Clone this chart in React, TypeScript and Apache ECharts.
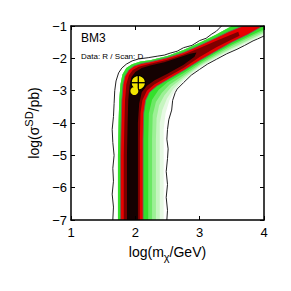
import React, { useEffect, useRef } from "react";
import * as echarts from "echarts";

// Axis ranges
const xRange = [1, 4];
const yRange = [-7, -1];

// Outer contour: upper/left side (bottom -> top)
const contourLeft: number[][] = [
  [1.65, -7], [1.66, -6.6], [1.64, -6.2], [1.66, -5.8], [1.65, -5.4], [1.67, -5.0], [1.65, -4.6],
  [1.64, -4.2], [1.66, -3.8], [1.67, -3.4], [1.68, -3.0], [1.70, -2.7], [1.74, -2.45], [1.79, -2.3],
  [1.86, -2.18], [1.95, -2.08], [2.05, -2.02], [2.2, -1.98], [2.35, -1.93], [2.45, -1.9], [2.54, -1.84],
  [2.65, -1.78], [2.75, -1.67], [2.88, -1.6], [3.0, -1.45], [3.1, -1.38], [3.18, -1.26], [3.26, -1.16], [3.34, -1.0],
];
// Outer contour: lower/right side (right edge -> bottom)
const contourRight: number[][] = [
  [4.0, -1.31], [3.9, -1.4], [3.83, -1.46], [3.7, -1.6], [3.58, -1.72], [3.42, -1.86], [3.26, -2.03],
  [3.12, -2.18], [3.0, -2.34], [2.87, -2.52], [2.75, -2.75], [2.65, -2.95], [2.62, -3.06], [2.58, -3.3],
  [2.565, -3.6], [2.52, -3.9], [2.5, -4.2], [2.49, -4.5], [2.51, -4.8], [2.5, -5.1], [2.48, -5.5],
  [2.5, -5.9], [2.48, -6.3], [2.5, -6.7], [2.49, -7],
];
// Green band upper/left edge
const greenLeft: number[][] = [
  [1.73, -7], [1.73, -5], [1.74, -4], [1.75, -3.3], [1.77, -2.8], [1.8, -2.5], [1.86, -2.3],
  [1.95, -2.18], [2.08, -2.1], [2.23, -2.06], [2.5, -1.93], [2.75, -1.74], [3.0, -1.52], [3.26, -1.26], [3.5, -1.0],
];
const topRightCorner: number[][] = [[4.0, -1.0]];
// Green shades, lower/right edges (innermost first)
const green1Right: number[][] = [
  [4.0, -1.1], [3.75, -1.33], [3.5, -1.57], [3.26, -1.83], [3.0, -2.13], [2.75, -2.45], [2.5, -2.74],
  [2.36, -2.98], [2.26, -3.28], [2.21, -3.7], [2.2, -4.5], [2.2, -7],
];
const green2Right: number[][] = [
  [4.0, -1.15], [3.75, -1.38], [3.5, -1.62], [3.26, -1.88], [3.0, -2.18], [2.75, -2.52], [2.53, -2.82],
  [2.41, -3.07], [2.32, -3.35], [2.27, -3.75], [2.26, -4.5], [2.26, -7],
];
const green3Right: number[][] = [
  [4.0, -1.2], [3.75, -1.44], [3.5, -1.68], [3.26, -1.93], [3.0, -2.22], [2.75, -2.58], [2.56, -2.88],
  [2.45, -3.15], [2.37, -3.45], [2.33, -3.85], [2.32, -4.5], [2.32, -7],
];
const green4Right: number[][] = [
  [4.0, -1.24], [3.75, -1.48], [3.5, -1.72], [3.26, -1.97], [3.0, -2.26], [2.75, -2.63], [2.59, -2.94],
  [2.49, -3.25], [2.42, -3.6], [2.38, -4.0], [2.38, -7],
];
const green5Right: number[][] = [
  [4.0, -1.28], [3.75, -1.53], [3.5, -1.77], [3.26, -2.0], [3.0, -2.3], [2.75, -2.69], [2.61, -3.0],
  [2.53, -3.3], [2.47, -3.7], [2.44, -4.2], [2.44, -7],
];
// Red band edges
const redLeft: number[][] = [
  [1.77, -7], [1.77, -5], [1.78, -4], [1.79, -3.3], [1.81, -2.8], [1.84, -2.55], [1.9, -2.36],
  [1.98, -2.24], [2.1, -2.16], [2.23, -2.11], [2.5, -1.98], [2.75, -1.82], [3.0, -1.6], [3.26, -1.36],
  [3.45, -1.18], [3.67, -1.0],
];
const redRight: number[][] = [
  [3.98, -1.0], [3.75, -1.26], [3.5, -1.5], [3.26, -1.77], [3.0, -2.07], [2.75, -2.38], [2.5, -2.66],
  [2.33, -2.86], [2.22, -3.05], [2.16, -3.3], [2.13, -3.7], [2.12, -4.5], [2.12, -7],
];
// Dark red core
const darkRedCore: number[][] = [
  [1.82, -7], [1.82, -5], [1.83, -4], [1.84, -3.3], [1.86, -2.8], [1.9, -2.52], [1.96, -2.36],
  [2.05, -2.26], [2.23, -2.17], [2.5, -2.04], [2.75, -1.88], [3.0, -1.68], [3.26, -1.46], [3.45, -1.3],
  [3.6, -1.18], [3.62, -1.3], [3.5, -1.42], [3.26, -1.66], [3.0, -1.96], [2.75, -2.3], [2.5, -2.58],
  [2.3, -2.8], [2.18, -3.0], [2.11, -3.3], [2.08, -3.7], [2.07, -4.5], [2.07, -7],
];
// Black core
const blackCore: number[][] = [
  [1.87, -7], [1.87, -5], [1.88, -4], [1.89, -3.3], [1.91, -2.85], [1.94, -2.58], [2.0, -2.42],
  [2.1, -2.3], [2.23, -2.22], [2.45, -2.12], [2.7, -1.96], [2.85, -1.86], [2.95, -1.82], [2.92, -1.95],
  [2.75, -2.2], [2.5, -2.48], [2.3, -2.68], [2.18, -2.85], [2.1, -3.05], [2.06, -3.4], [2.04, -4], [2.04, -7],
];
// Markers
const bestFit: number[][] = [[2.046, -2.754]];
const meanPoint: number[][] = [[1.985, -3.01]];

const FONT = "'Liberation Sans', Arial, Helvetica, sans-serif";

function polygonSeries(pts: number[][], fill: string, stroke?: string, lineWidth = 0) {
  return {
    type: "custom",
    coordinateSystem: "cartesian2d",
    silent: true,
    clip: true,
    data: pts,
    renderItem: (params: any, api: any) => {
      if (params.dataIndex !== 0) return null;
      const points = pts.map((p) => api.coord(p));
      return {
        type: "polygon",
        shape: { points },
        style: { fill, stroke: stroke || "none", lineWidth },
      };
    },
  };
}

function lineSeries(pts: number[][], stroke: string, lineWidth: number) {
  return {
    type: "custom",
    coordinateSystem: "cartesian2d",
    silent: true,
    clip: true,
    data: pts,
    renderItem: (params: any, api: any) => {
      if (params.dataIndex !== 0) return null;
      const points = pts.map((p) => api.coord(p));
      return {
        type: "polyline",
        shape: { points },
        style: { fill: "none", stroke, lineWidth },
      };
    },
  };
}

export default function App() {
  const ref = useRef<HTMLDivElement>(null);
  useEffect(() => {
    if (!ref.current) return;
    const chart = echarts.init(ref.current, undefined, { renderer: "svg" });
    const axisCommon = {
      type: "value",
      z: 10,
      splitLine: { show: false },
      axisLine: { show: true, lineStyle: { color: "#000", width: 1.5 } },
      axisTick: { show: true, inside: true, length: 4, lineStyle: { color: "#000", width: 1 } },
    };
    const option: any = {
      animation: false,
      grid: { left: 71, right: 27, top: 26, bottom: 71, show: false },
      xAxis: [
        {
          ...axisCommon,
          min: xRange[0],
          max: xRange[1],
          interval: 1,
          position: "bottom",
          axisLabel: { color: "#000", fontSize: 13, fontFamily: FONT, margin: 6 },
          name: "log(m{sub|χ}/GeV)",
          nameLocation: "middle",
          nameGap: 21,
          nameTextStyle: {
            color: "#000",
            fontSize: 14,
            fontFamily: FONT,
            rich: { sub: { fontSize: 11, fontFamily: FONT, color: "#000", padding: [10, 0, 0, 0] } },
          },
        },
        {
          ...axisCommon,
          min: xRange[0],
          max: xRange[1],
          interval: 1,
          position: "top",
          axisLabel: { show: false },
        },
      ],
      yAxis: [
        {
          ...axisCommon,
          min: yRange[0],
          max: yRange[1],
          interval: 1,
          position: "left",
          axisLabel: {
            color: "#000",
            fontSize: 13,
            fontFamily: FONT,
            margin: 4,
            formatter: (v: number) => String(v).replace("-", "\u2212"),
          },
          name: "log(σ{sup|SD}/pb)",
          nameLocation: "middle",
          nameGap: 27,
          nameTextStyle: {
            color: "#000",
            fontSize: 14,
            fontFamily: FONT,
            rich: { sup: { fontSize: 11, fontFamily: FONT, color: "#000", padding: [0, 0, 10, 0] } },
          },
        },
        {
          ...axisCommon,
          min: yRange[0],
          max: yRange[1],
          interval: 1,
          position: "right",
          axisLabel: { show: false },
        },
      ],
      graphic: [
        {
          type: "text",
          left: 81,
          top: 32,
          z: 20,
          style: { text: "BM3", fontSize: 12, fontFamily: FONT, fill: "#000" },
        },
        {
          type: "text",
          left: 81,
          top: 52,
          z: 20,
          style: { text: "Data: R / Scan: D", fontSize: 8, fontFamily: FONT, fill: "#000" },
        },
      ],
      series: [
        polygonSeries([...greenLeft, ...topRightCorner, ...green5Right], "#e6f9e3"),
        polygonSeries([...greenLeft, ...topRightCorner, ...green4Right], "#c6f5c0"),
        polygonSeries([...greenLeft, ...topRightCorner, ...green3Right], "#9cf095"),
        polygonSeries([...greenLeft, ...topRightCorner, ...green2Right], "#6be864"),
        polygonSeries([...greenLeft, ...topRightCorner, ...green1Right], "#34e02c"),
        polygonSeries([...redLeft, ...redRight], "#e80000", "#666666", 0.8),
        polygonSeries(darkRedCore, "#7e0000"),
        polygonSeries(blackCore, "#140202"),
        lineSeries(contourLeft, "#222", 1),
        lineSeries(contourRight, "#222", 1),
        {
          type: "custom",
          coordinateSystem: "cartesian2d",
          silent: true,
          data: bestFit,
          z: 5,
          renderItem: (params: any, api: any) => {
            const c = api.coord([api.value(0), api.value(1)]);
            const r = 7.2;
            return {
              type: "group",
              children: [
                { type: "circle", shape: { cx: c[0], cy: c[1], r }, style: { fill: "#f2e400", stroke: "#000", lineWidth: 1.3 } },
                { type: "line", shape: { x1: c[0], y1: c[1] - r, x2: c[0], y2: c[1] + r }, style: { stroke: "#000", lineWidth: 1.3 } },
                { type: "line", shape: { x1: c[0] - r, y1: c[1], x2: c[0] + r, y2: c[1] }, style: { stroke: "#000", lineWidth: 1.3 } },
              ],
            };
          },
        },
        {
          type: "custom",
          coordinateSystem: "cartesian2d",
          silent: true,
          data: meanPoint,
          z: 6,
          renderItem: (params: any, api: any) => {
            const c = api.coord([api.value(0), api.value(1)]);
            return { type: "circle", shape: { cx: c[0], cy: c[1], r: 4 }, style: { fill: "#f2e400" } };
          },
        },
      ],
    };
    chart.setOption(option);
    return () => chart.dispose();
  }, []);
  return (
    <div
      ref={ref}
      style={{ position: "fixed", left: 0, top: 0, width: 291, height: 291, background: "#fff" }}
    />
  );
}
